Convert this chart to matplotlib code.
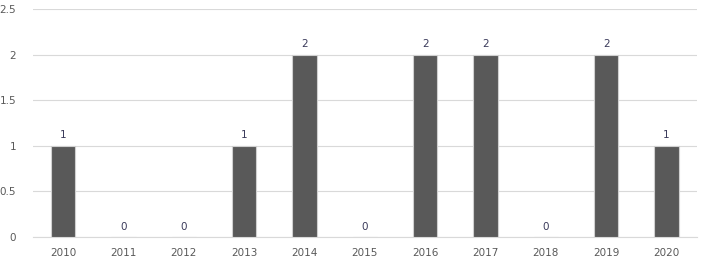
import matplotlib.pyplot as plt
import numpy as np

years = ['2010', '2011', '2012', '2013', '2014', '2015', '2016', '2017', '2018', '2019', '2020']
counts = [1, 0, 0, 1, 2, 0, 2, 2, 0, 2, 1]

fig = plt.figure(figsize=(7.06, 2.66), dpi=100)
ax = fig.add_axes([0.0467, 0.109, 0.94, 0.857])

x = np.arange(len(years))
bars = ax.bar(x, counts, width=0.4, color='#595959', edgecolor='#d0d0d0', linewidth=0.8, zorder=3)

for xi, v in zip(x, counts):
    ax.text(xi, v + 0.06, str(v), ha='center', va='bottom', fontsize=7.5, color='#3a3a5a')

ax.set_xlim(-0.5, len(years) - 0.5)
ax.set_ylim(0, 2.5)
ax.set_yticks([0, 0.5, 1, 1.5, 2, 2.5])
ax.set_yticklabels(['0', '0.5', '1', '1.5', '2', '2.5'])
ax.set_xticks(x)
ax.set_xticklabels(years)
ax.yaxis.grid(True, color='#d9d9d9', linewidth=0.8, zorder=0)
ax.tick_params(axis='both', length=0, labelsize=7.5, labelcolor='#595959')
ax.tick_params(axis='x', pad=8)
ax.tick_params(axis='y', pad=12)
for s in ['top', 'right', 'left']:
    ax.spines[s].set_visible(False)
ax.spines['bottom'].set_color('#d9d9d9')

fig.savefig('out.png', dpi=100)
